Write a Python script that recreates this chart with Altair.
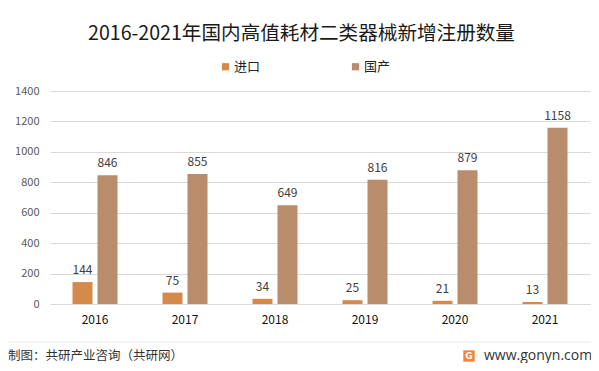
import altair as alt
import pandas as pd

years = ["2016", "2017", "2018", "2019", "2020", "2021"]
series = ["进口", "国产"]
import_vals = [144, 75, 34, 25, 21, 13]
domestic_vals = [846, 855, 649, 816, 879, 1158]
colors = ["#D48A4B", "#B98C6B"]
y_ticks = [0, 200, 400, 600, 800, 1000, 1200, 1400]

rows = []
for i, y in enumerate(years):
    rows.append({"year": y, "series": series[0], "value": import_vals[i]})
    rows.append({"year": y, "series": series[1], "value": domestic_vals[i]})
df = pd.DataFrame(rows)

FONT = "Noto Sans CJK SC"
W, H = 540, 213

x_enc = alt.X("year:N", sort=years,
              scale=alt.Scale(paddingInner=0, paddingOuter=0),
              axis=alt.Axis(title=None, labelAngle=0, ticks=False, domainColor="#d9d9d9",
                            labelPadding=10, labelFontSize=12, labelColor="#111",
                            labelFont=FONT))
xoff_enc = alt.XOffset("series:N", sort=series,
                       scale=alt.Scale(paddingInner=0.2, paddingOuter=0.9))
y_enc = alt.Y("value:Q", scale=alt.Scale(domain=[0, 1400], nice=False),
              axis=alt.Axis(title=None, values=y_ticks, format="d", domain=False, ticks=False,
                            gridColor="#d9d9d9", labelPadding=11, labelFontSize=11,
                            labelColor="#595959", labelFont=FONT))
color_enc = alt.Color("series:N", sort=series,
                      scale=alt.Scale(domain=series, range=colors),
                      legend=alt.Legend(title=None, orient="none", legendX=169, legendY=-31,
                                        direction="horizontal", symbolType="square",
                                        symbolSize=52, symbolStrokeWidth=0,
                                        labelFontSize=13, labelColor="#222",
                                        labelFont=FONT, columnPadding=88, labelOffset=2))

base = alt.Chart(df)
bars = base.mark_bar().encode(x=x_enc, xOffset=xoff_enc, y=y_enc, color=color_enc)
labels = base.mark_text(dy=-5, baseline="bottom", fontSize=12, color="#404040",
                        font=FONT).encode(x=x_enc, xOffset=xoff_enc, y=y_enc,
                                          text=alt.Text("value:Q"))

title = alt.Chart(pd.DataFrame({"t": ["2016-2021年国内高值耗材二类器械新增注册数量"]})).mark_text(
    fontSize=19.6, font=FONT, color="#1a1a1a", align="center", baseline="middle"
).encode(x=alt.value(251.5), y=alt.value(-57), text="t:N")

sep = alt.Chart(pd.DataFrame({"a": [0]})).mark_rule(color="#e8e8e8", strokeWidth=1).encode(
    x=alt.value(-42), x2=alt.value(541), y=alt.value(251))

src = alt.Chart(pd.DataFrame({"t": ["制图：共研产业咨询（共研网）"]})).mark_text(
    fontSize=12.5, font=FONT, color="#333", align="left", baseline="middle"
).encode(x=alt.value(-42), y=alt.value(265), text="t:N")

site = alt.Chart(pd.DataFrame({"t": ["www.gonyn.com"]})).mark_text(
    fontSize=14, font="Open Sans", color="#333", align="left", baseline="middle"
).encode(x=alt.value(434), y=alt.value(265), text="t:N")

logo = alt.Chart(pd.DataFrame({"a": [0]})).mark_square(size=130, color="#F2843C", opacity=1,
                                                       cornerRadius=2).encode(
    x=alt.value(419), y=alt.value(265))
logo_g = alt.Chart(pd.DataFrame({"t": ["G"]})).mark_text(
    fontSize=9, fontWeight="bold", color="white", font="DejaVu Sans", align="center", baseline="middle"
).encode(x=alt.value(419), y=alt.value(265), text="t:N")

chart = alt.layer(bars, labels, title, sep, src, site, logo, logo_g).properties(
    width=W, height=H,
    background="white",
    autosize=alt.AutoSizeParams(type="none"),
    padding={"left": 42, "top": 83, "right": 1, "bottom": 59},
).configure_view(stroke=None)

chart.save("out.html", embed_options={"renderer": "svg", "actions": False})
